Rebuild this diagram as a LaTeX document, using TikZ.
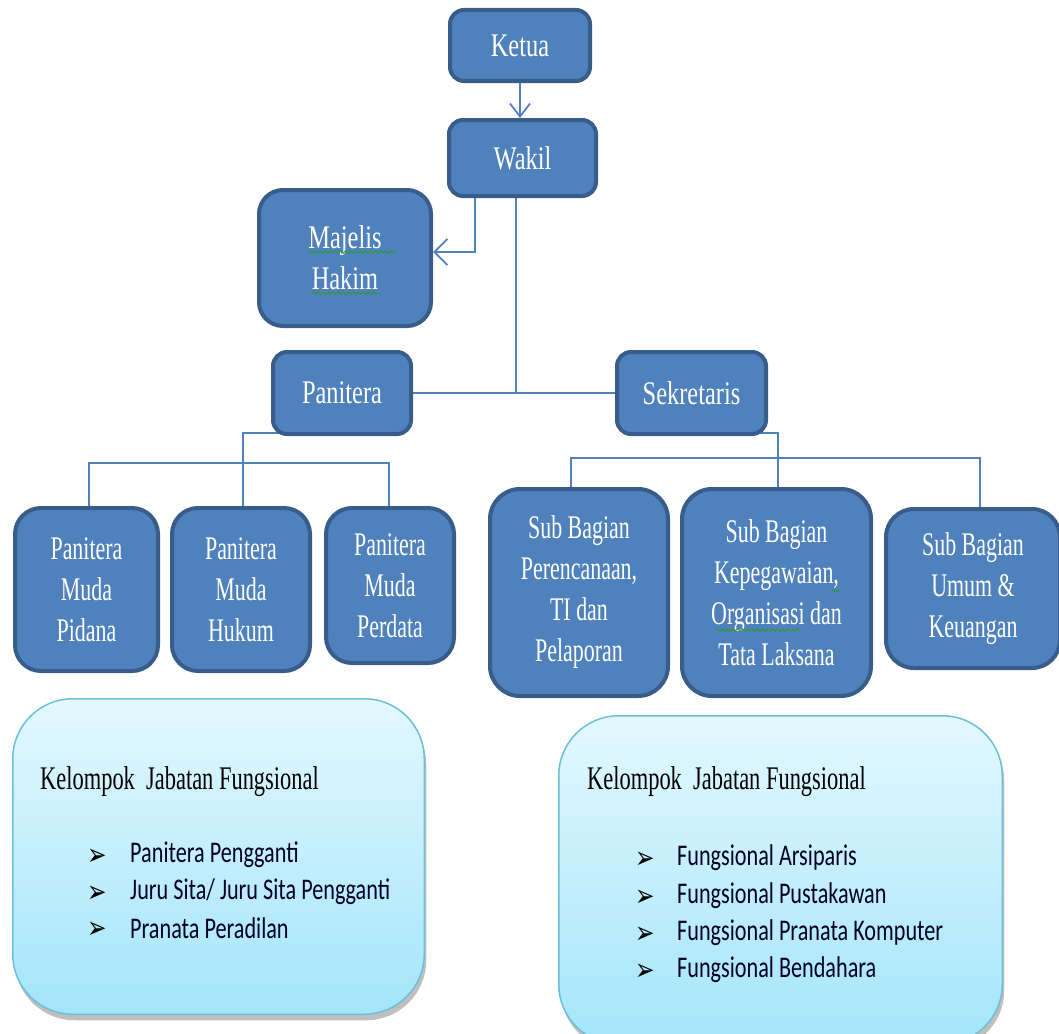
\documentclass[tikz,border=0pt]{standalone}
\usepackage{fontspec}
\newfontfamily\boxfont[FakeStretch=0.74]{Liberation Serif}
\newfontfamily\childfont[FakeStretch=0.665]{Liberation Serif}
\newfontfamily\titlefont[FakeStretch=0.68]{Liberation Serif}
\newfontfamily\listfont[FakeStretch=0.74]{Carlito}
\newfontfamily\symfont[FakeStretch=0.75]{DejaVu Sans}
\usetikzlibrary{arrows.meta,shadows,decorations.pathmorphing}
\definecolor{boxblue}{HTML}{4F81BD}
\definecolor{boxedge}{HTML}{385D8A}
\definecolor{linkblue}{HTML}{4F81BD}
\definecolor{paletop}{HTML}{E3F8FE}
\definecolor{palebot}{HTML}{A3E5FA}
\definecolor{paleedge}{HTML}{6DBFD8}
\definecolor{spellgreen}{HTML}{2E9A2E}
\pgfdeclarelayer{bg}
\pgfsetlayers{bg,main}
\begin{document}
\begin{tikzpicture}[x=1pt,y=-1pt,
  unit/.style={draw=boxedge, line width=4pt, fill=boxblue, rounded corners=#1,
    text=white, font=\boxfont\fontsize{33}{41}\selectfont, align=center, inner sep=0pt},
  unit/.default=14pt,
  childunit/.style={unit=#1, font=\childfont\fontsize{33}{41}\selectfont},
  panel/.style={draw=paleedge, line width=1.5pt, rounded corners=60pt,
    top color=paletop, bottom color=palebot,
    drop shadow={shadow xshift=2pt, shadow yshift=-6pt, opacity=0.25, fill=black}},
  link/.style={draw=linkblue, line width=1.8pt},
  arrowlink/.style={link, -{Straight Barb[length=13pt,width=#1]}},
  paneltitle/.style={anchor=west, inner sep=0pt, font=\titlefont\fontsize{33}{38}\selectfont, text=black},
  bulletmark/.style={anchor=west, inner sep=0pt, font=\symfont\fontsize{31}{31}\selectfont, text=black},
  listitem/.style={anchor=west, inner sep=0pt, font=\listfont\fontsize{30}{36}\selectfont, text=black!85!blue},
  spell/.style={draw=spellgreen, line width=0.9pt, decorate,
    decoration={snake, segment length=5pt, amplitude=1.2pt}}
]
\useasboundingbox (0,0) rectangle (1059,1033);

% top units
\node[unit=14pt, minimum width=140pt, minimum height=71pt] (ketua) at (520,45.5) {Ketua};
\node[unit=14pt, minimum width=147pt, minimum height=76pt] (wakil) at (522.5,158) {Wakil};
\node[unit=24pt, minimum width=172pt, minimum height=136pt] (majelis) at (345,258) {Majelis\\Hakim};
\node[unit=14pt, minimum width=138pt, minimum height=82pt] (panitera) at (342,393) {Panitera};
\node[unit=14pt, minimum width=149pt, minimum height=82pt] (sekretaris) at (691.5,393) {Sekretaris};

% panitera children
\node[childunit=26pt, minimum width=143pt, minimum height=163pt] (pidana) at (86.5,589.5) {Panitera\\Muda\\Pidana};
\node[childunit=26pt, minimum width=138pt, minimum height=163pt] (hukum) at (241,589.5) {Panitera\\Muda\\Hukum};
\node[childunit=26pt, minimum width=128pt, minimum height=155pt] (perdata) at (390,585.5) {Panitera\\Muda\\Perdata};

% sekretaris children
\node[childunit=30pt, minimum width=178pt, minimum height=207pt] (rencana) at (579,592.5) {Sub Bagian\\Perencanaan,\\TI dan\\Pelaporan};
\node[childunit=30pt, minimum width=189pt, minimum height=207pt] (kepeg) at (776.5,592.5) {Sub Bagian\\Kepegawaian,\\Organisasi dan\\Tata Laksana};
\node[childunit=28pt, minimum width=174pt, minimum height=159pt] (umum) at (973,588.5) {Sub Bagian\\Umum \&\\Keuangan};

% connectors
\begin{pgfonlayer}{bg}
\draw[arrowlink=20pt] (ketua) -- (ketua |- wakil.north);
\draw[arrowlink=26pt] ([xshift=-47.5pt]wakil.south) |- ([yshift=6pt]majelis.east);
\draw[link] ([xshift=-6.5pt]wakil.south) -- ([xshift=-6.5pt]wakil.south |- panitera.east);
\draw[link] (panitera.east) -- (sekretaris.west);
\draw[link] ([yshift=3pt]panitera.south) -| ([xshift=2pt]hukum.north);
\coordinate (pbus) at (0,463);
\draw[link] ([xshift=2.5pt]pidana.north) -- ([xshift=2.5pt]pidana.north |- pbus)
  -- ([xshift=-1pt]perdata.north |- pbus) -- ([xshift=-1pt]perdata.north);
\draw[link] ([yshift=3pt]sekretaris.south) -| ([xshift=1.5pt]kepeg.north);
\coordinate (sbus) at (0,458);
\draw[link] ([xshift=-8pt]rencana.north) -- ([xshift=-8pt]rencana.north |- sbus)
  -- ([xshift=7pt]umum.north |- sbus) -- ([xshift=7pt]umum.north);
\end{pgfonlayer}

% spell-check squiggles
\draw[spell] (309,252) -- (396,252);
\draw[spell] (312,293) -- (380,293);
\draw[spell] (716,630) -- (800,630);
\draw[spell] (831,591) -- (840,591);

% functional groups
\node[panel, minimum width=411.5pt, minimum height=315.5pt] (leftpanel) at (218.5,856.5) {};
\node[panel, minimum width=443.5pt, minimum height=328.5pt] (rightpanel) at (780.5,880) {};

\node[paneltitle] (lt) at (40,782) {Kelompok~ Jabatan Fungsional};
\node[bulletmark] (lb1) at (87,857) {➢};
\node[bulletmark] (lb2) at (87,894) {➢};
\node[bulletmark] (lb3) at (87,930) {➢};
\node[listitem] (li1) at (130,855) {Panitera Pengganti};
\node[listitem] (li2) at (130,892) {Juru Sita/ Juru Sita Pengganti};
\node[listitem] (li3) at (130,928) {Pranata Peradilan};

\node[paneltitle] (rt) at (587,782) {Kelompok~ Jabatan Fungsional};
\node[bulletmark] (rb1) at (635,860) {➢};
\node[bulletmark] (rb2) at (635,898) {➢};
\node[bulletmark] (rb3) at (635,935) {➢};
\node[bulletmark] (rb4) at (635,972) {➢};
\node[listitem] (ri1) at (677,858) {Fungsional Arsiparis};
\node[listitem] (ri2) at (677,896) {Fungsional Pustakawan};
\node[listitem] (ri3) at (677,933) {Fungsional Pranata Komputer};
\node[listitem] (ri4) at (677,970) {Fungsional Bendahara};
\end{tikzpicture}
\end{document}
